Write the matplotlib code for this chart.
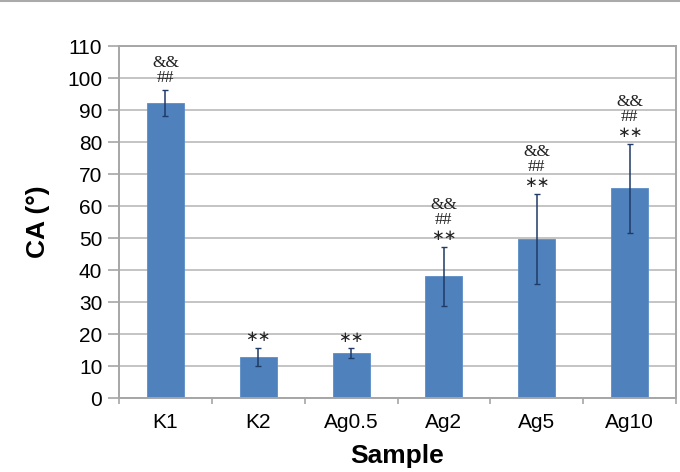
import matplotlib
matplotlib.use("Agg")
import matplotlib.pyplot as plt
from matplotlib.lines import Line2D
import numpy as np

samples = ["K1", "K2", "Ag0.5", "Ag2", "Ag5", "Ag10"]
ca_mean = [92.2, 12.9, 14.0, 38.1, 49.7, 65.5]
ca_err = [4.2, 2.8, 1.5, 9.2, 14.2, 14.0]
# significance marks per bar, listed from the bottom line upward
marks = [["##", "&&"], ["**"], ["**"], ["**", "##", "&&"], ["**", "##", "&&"], ["**", "##", "&&"]]
yticks = list(range(0, 111, 10))

fig = plt.figure(figsize=(6.8, 4.72), dpi=100)
ax = fig.add_axes([119/680, 74/472, 557/680, 352/472])

x = np.arange(len(samples))
ax.bar(x, ca_mean, width=0.4, color="#4f81bd", edgecolor="#5b8cc6", linewidth=0.6, zorder=2)
ax.errorbar(x, ca_mean, yerr=ca_err, fmt="none", ecolor="#1f3b66", elinewidth=1.1,
            capsize=2, capthick=1.0, zorder=3)

ax.set_xlim(-0.5, len(samples) - 0.5)
ax.set_ylim(0, 110)
ax.set_yticks(yticks)
ax.yaxis.grid(True, color="#c4c4c4", linewidth=1.4, zorder=0)
ax.set_axisbelow(True)

ax.set_xticks(x)
ax.set_xticklabels(samples)
ax.set_xticks(np.arange(-0.5, len(samples)), minor=True)
ax.tick_params(axis="x", which="major", length=0, pad=11, labelsize=15)
ax.tick_params(axis="x", which="minor", length=4.5, color="#a6a6a6", width=1.2)
ax.tick_params(axis="y", length=8, color="#a6a6a6", width=1.2, pad=4, labelsize=15)
for lab in ax.get_xticklabels() + ax.get_yticklabels():
    lab.set_fontfamily("Liberation Sans")

for s in ax.spines.values():
    s.set_color("#a6a6a6")
    s.set_linewidth(1.4)

ax.set_ylabel("CA (°)", fontsize=19, fontweight="bold", family="Liberation Sans")
ax.yaxis.set_label_coords(-0.124, 0.5)
ax.set_xlabel("Sample", fontsize=19, fontweight="bold", family="Liberation Sans")
ax.xaxis.set_label_coords(0.5, -0.13)

offsets = [8.0, 19.0, 30.0]
for i, mk in enumerate(marks):
    top = ca_mean[i] + ca_err[i]
    for j, m in enumerate(mk):
        if m == "**":
            txt, fam, fs = "\u2217\u2217", "DejaVu Sans", 11
        else:
            txt, fam, fs = m, "Liberation Serif", 12.5
        ax.annotate(txt, xy=(x[i], top), xytext=(0, offsets[j]), textcoords="offset points",
                    ha="center", va="center", fontsize=fs, family=fam, color="#222222",
                    linespacing=0.9)

fig.add_artist(Line2D([0, 1], [0.998, 0.998], color="#aaaaaa", linewidth=1.5))

fig.savefig("out.png", dpi=100)
